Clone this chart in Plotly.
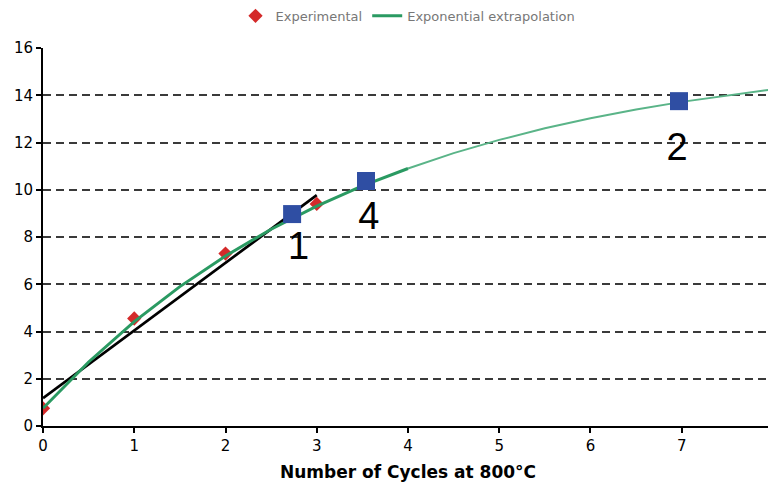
import plotly.graph_objects as go

# Experimental data
exp_x = [0, 1, 2, 3]
exp_y = [0.75, 4.55, 7.3, 9.4]

# Exponential extrapolation
fit_x = [0, 0.5, 1, 1.5, 2, 2.5, 3, 3.5, 4]
fit_y = [0.75, 2.71, 4.42, 5.90, 7.20, 8.33, 9.31, 10.16, 10.9]
ext_x = [4, 4.5, 5, 5.5, 6, 6.5, 7, 7.5, 8]
ext_y = [10.9, 11.55, 12.11, 12.60, 13.03, 13.40, 13.72, 14.0, 14.25]

# Black tangent line
tan_x = [0, 3]
tan_y = [1.18, 9.77]

# Numbered square markers
sq_x = [2.73, 3.54, 6.97]
sq_y = [8.97, 10.37, 13.75]
sq_labels = ["1", "4", "2"]
lab_x = [2.8, 3.57, 6.95]
lab_y = [7.45, 8.75, 11.65]

font = "DejaVu Sans, Verdana, sans-serif"

fig = go.Figure()
fig.add_trace(go.Scatter(x=tan_x, y=tan_y, mode="lines",
                         line=dict(color="black", width=2.7), showlegend=False))
fig.add_trace(go.Scatter(x=exp_x, y=exp_y, mode="markers", name="Experimental",
                         marker=dict(symbol="diamond", color="#d42a2a", size=11)))
fig.add_trace(go.Scatter(x=fit_x, y=fit_y, mode="lines", name="Exponential extrapolation",
                         legendgroup="fit", line=dict(color="#2a9a62", width=3)))
fig.add_trace(go.Scatter(x=ext_x, y=ext_y, mode="lines", legendgroup="fit", showlegend=False,
                         line=dict(color="#5ab488", width=2)))
fig.add_trace(go.Scatter(x=sq_x, y=sq_y, mode="markers", showlegend=False,
                         marker=dict(symbol="square", color="#2f4ea3", size=18,
                                     line=dict(color="#2f4ea3", width=0))))
fig.add_trace(go.Scatter(x=lab_x, y=lab_y, mode="text", text=sq_labels, showlegend=False,
                         textfont=dict(size=38, color="black", family="Liberation Sans, Arial")))

# page body has an 8px margin, so the figure is sized to fit the window
fig.update_layout(
    width=768, height=486,
    margin=dict(l=35, r=3, t=40, b=68, autoexpand=False),
    plot_bgcolor="white", paper_bgcolor="white",
    font=dict(family=font, size=15, color="black"),
    legend=dict(orientation="h", x=0.5, xanchor="center", y=1.085, yanchor="middle",
                font=dict(size=13, color="#777777"), tracegroupgap=0),
    xaxis=dict(range=[0, 8.0001], dtick=1, showgrid=False, zeroline=False, automargin=False,
               showline=True, linecolor="black", linewidth=2,
               ticks="outside", ticklen=5, tickcolor="black", tickwidth=2,
               ticklabeloverflow="allow",
               title=dict(text="<b>Number of Cycles at 800°C</b>", font=dict(size=17), standoff=12)),
    yaxis=dict(range=[0, 16], dtick=2, showgrid=True, gridcolor="#3a3a3a", griddash="8px,5px",
               gridwidth=1.6, zeroline=False, showline=True, linecolor="black", linewidth=2,
               automargin=False,
               ticks="outside", ticklen=5, tickcolor="black", tickwidth=2),
)
fig.write_html("out.html")
